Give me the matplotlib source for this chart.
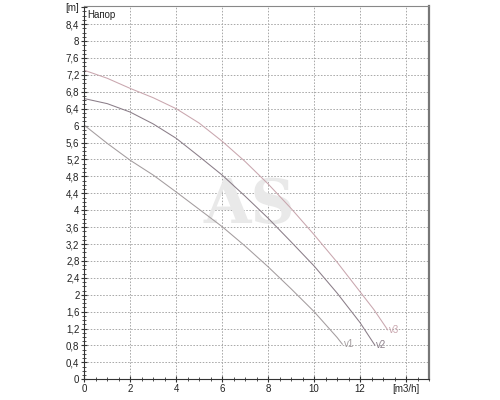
import numpy as np
import matplotlib.pyplot as plt
from matplotlib.ticker import MultipleLocator, FixedLocator

plt.rcParams['font.family'] = ['Liberation Sans', 'DejaVu Sans']

# pump curves: flow [m3/h] -> head [m]
x1 = [0, 1, 2, 3, 4, 5, 6, 7, 8, 9, 10, 11, 11.23]
y1 = [6.01, 5.58, 5.18, 4.83, 4.43, 4.02, 3.61, 3.15, 2.66, 2.14, 1.60, 0.99, 0.83]
x2 = [0, 1, 2, 3, 4, 5, 6, 7, 8, 9, 10, 11, 12, 12.64]
y2 = [6.64, 6.52, 6.32, 6.04, 5.70, 5.27, 4.83, 4.33, 3.81, 3.25, 2.68, 2.04, 1.34, 0.81]
x3 = [0, 1, 2, 3, 4, 5, 6, 7, 8, 9, 10, 11, 12, 12.6, 13.2]
y3 = [7.31, 7.12, 6.88, 6.66, 6.40, 6.06, 5.63, 5.15, 4.62, 4.04, 3.42, 2.77, 2.07, 1.65, 1.17]
names = ['v1', 'v2', 'v3']
colors = ['#a39c9e', '#8a7d88', '#c9a6ae']

xticks = [0, 2, 4, 6, 8, 10, 12, 14]
xlabels = ['0', '2', '4', '6', '8', '10', '12', '[m3/h]']
yticks = [round(0.4 * i, 1) for i in range(23)]
ylabels = [f'{v:g}'.replace('.', ',') for v in yticks[:-1]] + ['[m]']

fig = plt.figure(figsize=(5, 4), dpi=100)
ax = fig.add_axes([0.1686, 0.0518, 0.6894, 0.9332])

for xs, ys, c, n in zip([x1, x2, x3], [y1, y2, y3], colors, names):
    ax.plot(xs, ys, color=c, lw=0.75)
    ax.text(xs[-1] + 0.05, ys[-1], n, color=c, fontsize=7, ha='left', va='center')

ax.set_xlim(0, 15)
ax.set_ylim(0, 8.83)
ax.xaxis.set_major_locator(FixedLocator(xticks))
ax.set_xticklabels(xlabels)
ax.xaxis.set_minor_locator(MultipleLocator(0.5))
ax.yaxis.set_major_locator(FixedLocator(yticks))
ax.set_yticklabels(ylabels)
ax.yaxis.set_minor_locator(MultipleLocator(0.1))

ax.tick_params(axis='both', which='major', labelsize=7, length=5, width=0.8,
               direction='inout', pad=1, colors='#333333', labelcolor='#222222')
ax.tick_params(axis='both', which='minor', length=3, width=0.6, direction='inout', colors='#333333')

for v in yticks[1:-1]:
    ax.axhline(v, color='#a8a8a8', lw=0.7, ls=(0, (1.6, 1.6)), zorder=0)
for v in xticks[1:]:
    ax.axvline(v, color='#a8a8a8', lw=0.7, ls=(0, (1.6, 1.6)), zorder=0)

ax.spines['left'].set_color('#333333')
ax.spines['bottom'].set_color('#333333')
ax.spines['top'].set_color('#888888')
ax.spines['right'].set_color('#777777')
ax.spines['right'].set_linewidth(1.6)

ax.text(0.15, 8.62, 'Напор', fontsize=7, color='#222222', ha='left', va='center')
ax.text(7.2, 4.1, 'AS', fontsize=44, color='#e9e9e9', family='DejaVu Serif',
        fontweight='bold', ha='center', va='center', zorder=0)

fig.savefig('out.png', dpi=100)
